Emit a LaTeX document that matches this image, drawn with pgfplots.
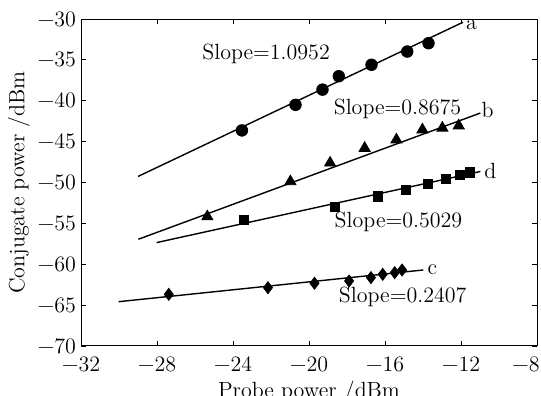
\documentclass[border=0pt]{standalone}
\usepackage{pgfplots}
\pgfplotsset{compat=1.18}
\begin{document}
\begin{tikzpicture}[font=\fontsize{11}{13}\selectfont]
\begin{axis}[
  scale only axis, width=228pt, height=163.5pt,
  xmin=-32, xmax=-8, ymin=-70, ymax=-30,
  xtick={-32,-28,...,-8}, ytick={-70,-65,...,-30},
  xticklabels={−32,−28,−24,−20,−16,−12,−8\kern11pt},
  yticklabels={−70,−65,−60,−55,−50,−45,−40,−35,−30},
  tick label style={font=\fontsize{11}{13}\selectfont},
  label style={font=\fontsize{11}{13}\selectfont},
  major tick length=2.5pt,
  xlabel={Probe power /dBm}, ylabel={Conjugate power /dBm},
  xlabel style={yshift=2.5pt},
  ylabel style={yshift=-3pt},
  xticklabel style={yshift=-2pt},
  yticklabel style={xshift=1pt},
  axis line style={line width=0.5pt},
  every tick/.style={black, line width=0.4pt},
  clip=false,
]
% series a (circles)
\addplot[only marks, mark=*, mark size=2.9pt, black] coordinates {
(-23.53,-43.63)(-20.71,-40.5)(-19.29,-38.64)(-18.43,-37.0)(-16.71,-35.6)(-14.83,-33.98)(-13.71,-32.96)};
\addplot[black, line width=0.7pt] coordinates {(-29,-49.26)(-11.9,-30.4)};
% series b (triangles)
\addplot[only marks, mark=triangle*, mark size=3.2pt, black] coordinates {
(-25.35,-54.17)(-20.98,-49.88)(-18.89,-47.6)(-17.07,-45.8)(-15.4,-44.77)(-14.03,-43.54)(-12.98,-43.33)(-12.12,-43.05)};
\addplot[black, line width=0.7pt] coordinates {(-28.98,-56.94)(-10.98,-41.5)};
% series d (squares)
\addplot[only marks, mark=square*, mark size=2.3pt, black] coordinates {
(-23.44,-54.57)(-18.65,-52.94)(-16.38,-51.7)(-14.92,-50.9)(-13.76,-50.16)(-12.8,-49.55)(-12.07,-49.06)(-11.53,-48.77)};
\addplot[black, line width=0.7pt] coordinates {(-28.02,-57.35)(-10.98,-48.65)};
% series c (diamonds)
\addplot[only marks, mark=diamond*, mark size=3pt, black] coordinates {
(-27.38,-63.68)(-22.16,-62.87)(-19.71,-62.33)(-17.89,-62.05)(-16.74,-61.64)(-16.12,-61.23)(-15.49,-61.03)(-15.1,-60.7)};
\addplot[black, line width=0.7pt] coordinates {(-30.02,-64.58)(-13.98,-60.7)};
% labels
\node at (axis cs:-11.45,-30.75) {a};
\node at (axis cs:-10.6,-41.15) {b};
\node at (axis cs:-10.45,-48.55) {d};
\node at (axis cs:-13.5,-60.7) {c};
\node at (axis cs:-22.26,-34.3) {Slope=1.0952};
\node at (axis cs:-15.34,-41.0) {Slope=0.8675};
\node at (axis cs:-15.29,-54.8) {Slope=0.5029};
\node at (axis cs:-15.07,-63.97) {Slope=0.2407};
\end{axis}
\pgfresetboundingbox
\path ([xshift=-40.5pt,yshift=-25pt]current axis.south west) rectangle ([xshift=2pt,yshift=9.5pt]current axis.north east);
\end{tikzpicture}
\end{document}
